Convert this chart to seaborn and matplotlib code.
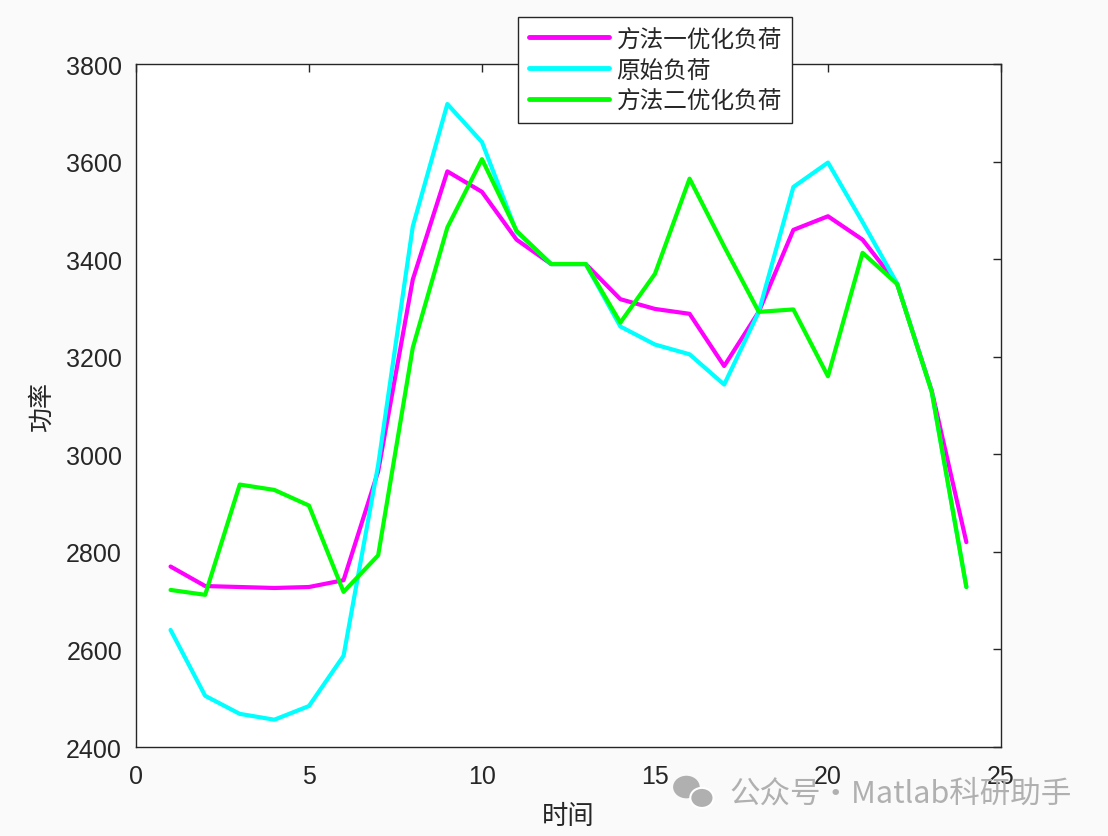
import numpy as np
import pandas as pd
import matplotlib
matplotlib.use('Agg')
import matplotlib.pyplot as plt
from matplotlib.patches import Ellipse
import seaborn as sns

# 时间 (1..24)
hours = list(range(1, 25))

# 方法一优化负荷
load_m1 = [2770, 2730, 2728, 2726, 2728, 2742, 2965, 3358, 3580, 3538,
           3440, 3390, 3390, 3318, 3298, 3288, 3181, 3292, 3460, 3488,
           3440, 3349, 3130, 2820]
# 原始负荷
load_raw = [2640, 2505, 2468, 2456, 2484, 2587, 2978, 3467, 3718, 3640,
            3456, 3390, 3390, 3262, 3225, 3205, 3143, 3292, 3548, 3598,
            3476, 3350, 3128, 2728]
# 方法二优化负荷
load_m2 = [2722, 2712, 2938, 2927, 2895, 2718, 2793, 3218, 3465, 3605,
           3458, 3390, 3390, 3270, 3370, 3565, 3426, 3292, 3297, 3160,
           3413, 3349, 3128, 2728]

names = ['方法一优化负荷', '原始负荷', '方法二优化负荷']
colors = ['#ff00ff', '#00ffff', '#00ff00']

df = pd.DataFrame({
    'hour': hours * 3,
    'power': load_m1 + load_raw + load_m2,
    'series': [names[0]] * 24 + [names[1]] * 24 + [names[2]] * 24,
})

sns.set_theme(style='white')
plt.rcParams['font.family'] = ['Liberation Sans', 'Noto Sans CJK SC', 'DejaVu Sans']
cjk = ['Noto Sans CJK SC', 'DejaVu Sans']

fig = plt.figure(figsize=(11.08, 8.37), dpi=100, facecolor='#fafafa')
ax = fig.add_axes([0.1227, 0.1063, 0.9034 - 0.1227, 0.9223 - 0.1063])
ax.set_facecolor('white')

sns.lineplot(data=df, x='hour', y='power', hue='series', hue_order=names,
             palette=dict(zip(names, colors)), linewidth=3, ax=ax)

ax.set_xlim(0, 25)
ax.set_ylim(2400, 3800)
ax.set_xticks(range(0, 26, 5))
ax.set_yticks(range(2400, 3801, 200))
ax.tick_params(direction='in', length=6, width=1, colors='#262626',
               labelsize=18, top=True, right=True)
ax.tick_params(axis='x', pad=12)
ax.tick_params(axis='y', pad=10)
for s in ax.spines.values():
    s.set_color('#262626')
    s.set_linewidth(1)

ax.set_xlabel('时间', fontsize=19, family=cjk, color='#262626', labelpad=10)
ax.set_ylabel('功率', fontsize=18, family=cjk, color='#262626', labelpad=8)

leg = ax.legend(loc='upper center', bbox_to_anchor=(0.5916, 0.9785),
                bbox_transform=fig.transFigure, prop={'family': cjk, 'size': 17},
                frameon=True, fancybox=False, handlelength=3.4, borderpad=0.45,
                labelspacing=0.33, handletextpad=0.3, borderaxespad=0)
leg.get_frame().set_edgecolor('#262626')
leg.get_frame().set_linewidth(1)
leg.get_frame().set_facecolor('white')
leg.get_frame().set_alpha(1)
for line in leg.get_lines():
    line.set_linewidth(3.5)

# watermark
fig.text(0.9675, 0.0515, '公众号·Matlab科研助手', ha='right', va='center',
         fontsize=22, color='#b0b0b0', family=cjk)
fig.patches.append(Ellipse((0.6195, 0.0585), 0.024, 0.027, transform=fig.transFigure,
                           facecolor='#b0b0b0', edgecolor='none'))
fig.patches.append(Ellipse((0.6335, 0.0455), 0.021, 0.024, transform=fig.transFigure,
                           facecolor='#b0b0b0', edgecolor='white', linewidth=1.5))

fig.savefig('out.png', dpi=100, facecolor=fig.get_facecolor())
